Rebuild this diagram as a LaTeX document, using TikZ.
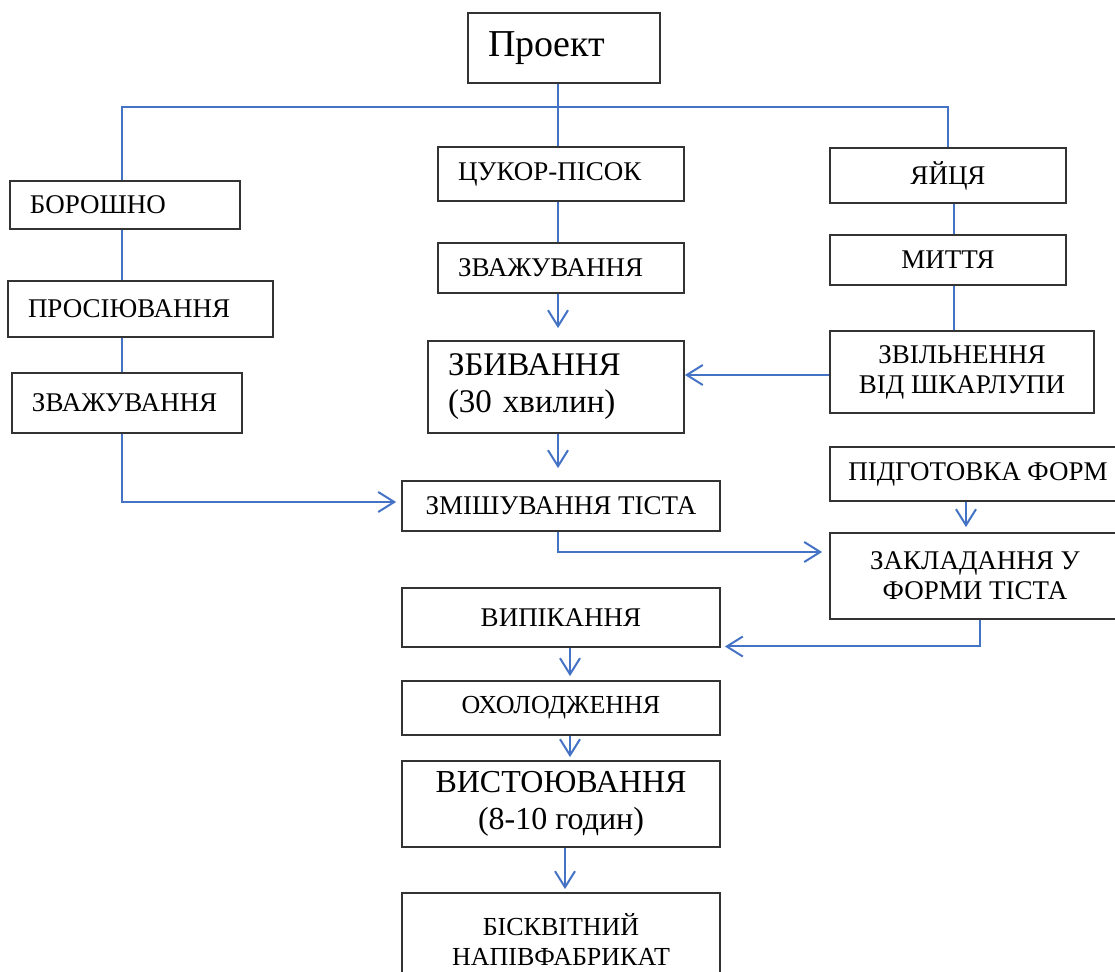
\documentclass[tikz,border=0pt]{standalone}
\usepackage{fontspec}
\setmainfont{Liberation Serif}
\usepackage{color}
\definecolor{mylineblue}{RGB}{68,114,196}
\usepackage{tikz}
\usetikzlibrary{arrows.meta,calc}
\hyphenpenalty=10000
\exhyphenpenalty=10000
\tikzstyle{stage}=[draw=black!80,line width=0.9pt,inner sep=0pt,align=center,font=\fontsize{13.5}{15}\selectfont]
\tikzstyle{leftstage}=[stage,align=left,inner xsep=10pt]
\tikzstyle{link}=[draw=mylineblue,line width=1pt]
\tikzstyle{flow}=[link,-{Straight Barb[length=8pt,width=10pt]}]

\begin{document}
\begin{tikzpicture}[x=0.5pt,y=-0.5pt]
\useasboundingbox (0,0) rectangle (1115,972);
% left column
\node[leftstage,text width=76pt,minimum height=35pt,font=\fontsize{19}{21}\selectfont] (proj) at (564,48) {Проект};
\node[leftstage,text width=95pt,minimum height=24pt] (flour) at (125,205) {БОРОШНО};
\node[leftstage,text width=112.5pt,minimum height=28pt] (sift) at (140.5,309) {ПРОСІЮВАННЯ};
\node[leftstage,text width=95pt,minimum height=30pt] (weighA) at (127,403) {ЗВАЖУВАННЯ};
% middle column
\node[leftstage,text width=103pt,minimum height=27pt] (sugar) at (561,174) {ЦУКОР-ПІСОК};
\node[leftstage,text width=103pt,minimum height=25pt] (weighB) at (561,268) {ЗВАЖУВАННЯ};
\node[leftstage,text width=108pt,minimum height=46pt,font=\fontsize{16.5}{18.5}\selectfont] (beat) at (556,387) {ЗБИВАННЯ\\(30 хвилин)};
\node[stage,minimum width=159pt,minimum height=25pt] (mix) at (561,506) {ЗМІШУВАННЯ ТІСТА};
\node[stage,minimum width=159pt,minimum height=29.5pt] (bake) at (561,617.5) {ВИПІКАННЯ};
\node[stage,minimum width=159pt,minimum height=27pt,font=\fontsize{13}{15}\selectfont] (cool) at (561,708) {ОХОЛОДЖЕННЯ};
\node[stage,minimum width=159pt,minimum height=43pt,font=\fontsize{16}{18.5}\selectfont] (rest) at (561,804) {ВИСТОЮВАННЯ\\(8-10 годин)};
\node[stage,minimum width=159pt,minimum height=47pt,font=\fontsize{13}{15}\selectfont] (semi) at (561,940) {БІСКВІТНИЙ\\НАПІВФАБРИКАТ};
% right column
\node[stage,minimum width=118pt,minimum height=27.5pt] (eggs) at (948,175.5) {ЯЙЦЯ};
\node[stage,minimum width=118pt,minimum height=25pt] (wash) at (948,260) {МИТТЯ};
\node[stage,minimum width=132pt,minimum height=41pt] (shell) at (962,372) {ЗВІЛЬНЕННЯ\\ВІД ШКАРЛУПИ};
\node[stage,minimum width=148pt,minimum height=27pt] (forms) at (978,474) {ПІДГОТОВКА ФОРМ};
\node[stage,minimum width=145pt,minimum height=43pt] (place) at (975,576) {ЗАКЛАДАННЯ У\\ФОРМИ ТІСТА};
% connector columns
\coordinate (busL) at (122,107);
\coordinate (busR) at (948,107);
\coordinate (midcol) at (558,0);
\coordinate (eggcol) at (954,0);
\coordinate (formcol) at (966,0);
\coordinate (placecol) at (980,0);
\coordinate (lowcol) at (570,0);
\coordinate (lastcol) at (565,0);
% connectors
\draw[link] (proj.south -| midcol) -- (sugar.north -| midcol);
\draw[link] (flour.north -| busL) -- (busL) -- (busR) -- (eggs.north -| busR);
\draw[link] (flour.south -| busL) -- (sift.north -| busL);
\draw[link] (sift.south -| busL) -- (weighA.north -| busL);
\draw[flow,shorten >=2.5pt] (weighA.south -| busL) |- ([yshift=2pt]mix.west);
\draw[link] (sugar.south -| midcol) -- (weighB.north -| midcol);
\draw[flow,shorten >=6pt] (weighB.south -| midcol) -- (beat.north -| midcol);
\draw[flow,shorten >=6pt] (beat.south -| midcol) -- (mix.north -| midcol);
\draw[link] (eggs.south -| eggcol) -- (wash.north -| eggcol);
\draw[link] (wash.south -| eggcol) -- (shell.north -| eggcol);
\draw[flow] ([yshift=-1.5pt]shell.west) -- ([yshift=-1.5pt]shell.west -| beat.east);
\draw[flow,shorten >=3.5pt] (mix.south -| midcol) |- ([yshift=12pt]place.west);
\draw[flow,shorten >=2.5pt] (forms.south -| formcol) -- (place.north -| formcol);
\draw[flow,shorten >=2pt] (place.south -| placecol) |- ([yshift=-14.5pt]bake.east);
\draw[flow,shorten >=2pt] (bake.south -| lowcol) -- (cool.north -| lowcol);
\draw[flow,shorten >=1.5pt] (cool.south -| lowcol) -- (rest.north -| lowcol);
\draw[flow,shorten >=1.5pt] (rest.south -| lastcol) -- (semi.north -| lastcol);
\end{tikzpicture}
\end{document}
